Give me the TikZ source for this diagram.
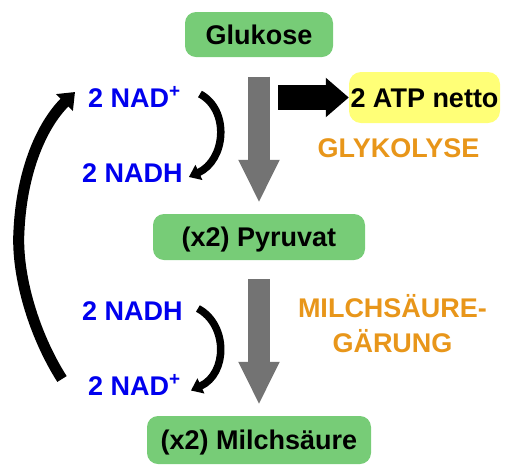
\documentclass[tikz,border=0pt]{standalone}
\usepackage{fontspec}
\setmainfont{Liberation Sans}
\usetikzlibrary{arrows.meta}

\definecolor{leafgreen}{HTML}{77CC77}
\definecolor{atpyellow}{HTML}{FFFF77}
\definecolor{flowgray}{HTML}{737373}
\definecolor{nadblue}{HTML}{0000EE}
\definecolor{stageorange}{HTML}{E8961A}

\begin{document}
\begin{tikzpicture}[x=1pt, y=-1pt,
	every node/.style={font=\fontsize{27}{35}\selectfont\bfseries},
	molecule/.style={fill=leafgreen, rounded corners=11pt, inner sep=0pt, text height=19.3pt, text depth=0pt, minimum height=46pt},
	cofactor/.style={text=nadblue, inner sep=0pt, text height=19pt, text depth=0pt, anchor=base west},
	stagename/.style={text=stageorange, align=center, inner sep=0pt, anchor=base}]
	\useasboundingbox (0, 0) rectangle (512, 475);

	\node[molecule, minimum width=148pt, minimum height=45pt] (glc) at (259, 34.5) {Glukose};
	\node[molecule, minimum width=212pt] (pyr) at (259, 237) {(x2) Pyruvat};
	\node[molecule, minimum width=224pt, minimum height=48pt] (lac) at (259, 440) {(x2) Milchsäure};
	\node[fill=atpyellow, rounded corners=12pt, inner sep=0pt, text height=19.3pt, text depth=0pt,
		minimum width=151pt, minimum height=51pt] (atp) at (424.5, 97.5) {2 ATP netto};

	\node[stagename] (glyk) at (398.5, 157) {GLYKOLYSE};
	\node[stagename, anchor=north] (ferm) at (392.5, 294) {MILCHSÄURE-\\GÄRUNG};

	\node[cofactor] (nadA) at (88, 107) {2 NAD\textsuperscript{+}};
	\node[cofactor] (nadhA) at (82, 182) {2 NADH};
	\node[cofactor] (nadhB) at (82, 320) {2 NADH};
	\node[cofactor] (nadB) at (88, 395) {2 NAD\textsuperscript{+}};

	% main flow
	\draw[flowgray, line width=22pt, -{Triangle[length=43pt, width=38pt]}] ([yshift=-19.5pt]glc.south) -- ([yshift=11pt]pyr.north);
	\draw[flowgray, line width=22pt, -{Triangle[length=43pt, width=38pt]}] ([yshift=-19pt]pyr.south) -- ([yshift=11pt]lac.north);

	\coordinate (atpfrom) at (278, 97.5);
	\draw[black, line width=25pt, -{Triangle[length=23pt, width=38pt]}] (atpfrom) -- (atp.west);

	% NAD cycle
	\draw[black, line width=7.5pt, -{Triangle[length=11pt, width=16pt]}] ([xshift=19pt, yshift=3.5pt]nadA.east)
		.. controls +(30, 16) and +(37, -17) .. ([xshift=6pt, yshift=-4.5pt]nadhA.east);
	\draw[black, line width=7.5pt, -{Triangle[length=11pt, width=16pt]}] ([xshift=15pt, yshift=2pt]nadhB.east)
		.. controls +(30, 16) and +(37, -17) .. ([xshift=10pt, yshift=-5pt]nadB.east);

	\coordinate (loop) at (19, 230);
	\draw[black, line width=11pt, -{Triangle[length=15pt, width=23pt]}] ([xshift=-26pt, yshift=6.5pt]nadB.west)
		.. controls (34, 335) and (16, 275) .. (loop)
		.. controls (22, 170) and (42, 125) .. ([xshift=-13pt, yshift=5.5pt]nadA.west);

\end{tikzpicture}
\end{document}
